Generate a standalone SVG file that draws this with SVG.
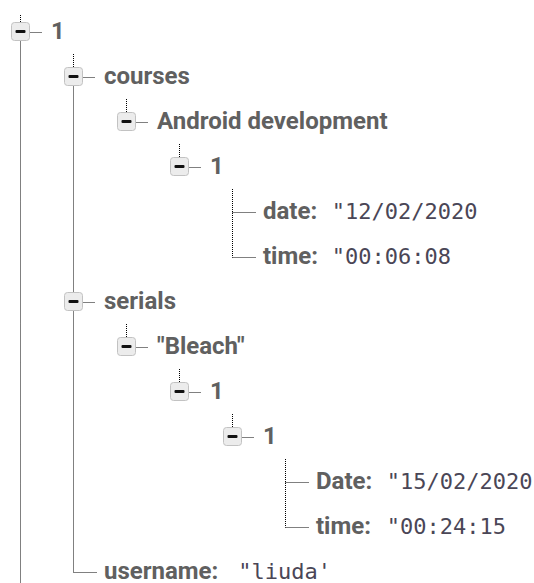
<svg xmlns="http://www.w3.org/2000/svg" width="534" height="583" viewBox="0 0 534 583">
<style>
.bg{fill:#ffffff}
.dot{stroke:#000;stroke-width:1;stroke-dasharray:1 1;fill:none}
.box{fill:#ececec;stroke:#c2c2c2;stroke-width:1}
.bar{fill:#111}
.key{font-family:Roboto,"Liberation Sans",sans-serif;font-weight:bold;font-size:24px;fill:#606060}
.val{font-family:"DejaVu Sans Mono","Liberation Mono",monospace;font-size:22px;fill:#4a4656}
</style>
<defs>
<g id="tog">
<rect class="box" x="-9" y="-9" width="18" height="18" rx="3"/>
<rect class="bar" x="-5" y="-1.5" width="10" height="3" rx="1"/>
<line class="dot" x1="10" y1="1" x2="22" y2="1"/>
</g>
</defs>
<rect class="bg" x="0" y="0" width="534" height="583"/>
<g id="connectors">
<path class="dot" d="M20.5 15V22.5M20.5 40.5V583"/>
<path class="dot" d="M73.5 54V67.5M73.5 85.5V292.5M73.5 310.5V572.5H96.5"/>
<path class="dot" d="M126.5 99V112.5"/>
<path class="dot" d="M179.5 144V157.5"/>
<path class="dot" d="M232.5 189V257.5M232.5 212.5H255.5M232.5 257.5H255.5"/>
<path class="dot" d="M126.5 324V337.5"/>
<path class="dot" d="M179.5 369V382.5"/>
<path class="dot" d="M232.5 414V427.5"/>
<path class="dot" d="M285.5 459V527.5M285.5 482.5H308.5M285.5 527.5H308.5"/>
</g>
<g id="n-root"><use href="#tog" x="20.5" y="31.5"/><text class="key" x="51" y="38.5">1</text></g>
<g id="n-courses"><use href="#tog" x="73.5" y="76.5"/><text class="key" x="104" y="83.5">courses</text></g>
<g id="n-android"><use href="#tog" x="126.5" y="121.5"/><text class="key" x="157" y="128.5">Android development</text></g>
<g id="n-course-1"><use href="#tog" x="179.5" y="166.5"/><text class="key" x="210" y="173.5">1</text></g>
<g id="n-date"><text class="key" x="263" y="218.5">date:</text><text class="val" x="331.7" y="218.5">"12/02/2020</text></g>
<g id="n-time1"><text class="key" x="263" y="263.5">time:</text><text class="val" x="331.7" y="263.5">"00:06:08</text></g>
<g id="n-serials"><use href="#tog" x="73.5" y="301.5"/><text class="key" x="104" y="308.5">serials</text></g>
<g id="n-bleach"><use href="#tog" x="126.5" y="346.5"/><text class="key" x="157" y="353.5">"Bleach"</text></g>
<g id="n-bleach-1"><use href="#tog" x="179.5" y="391.5"/><text class="key" x="210" y="398.5">1</text></g>
<g id="n-bleach-1-1"><use href="#tog" x="232.5" y="436.5"/><text class="key" x="263" y="443.5">1</text></g>
<g id="n-Date"><text class="key" x="316" y="488.5">Date:</text><text class="val" x="386.7" y="488.5">"15/02/2020</text></g>
<g id="n-time2"><text class="key" x="316" y="533.5">time:</text><text class="val" x="386.7" y="533.5">"00:24:15</text></g>
<g id="n-username"><text class="key" x="104" y="578.5">username:</text><text class="val" x="238.3" y="578.5">"liuda'</text></g>
</svg>
